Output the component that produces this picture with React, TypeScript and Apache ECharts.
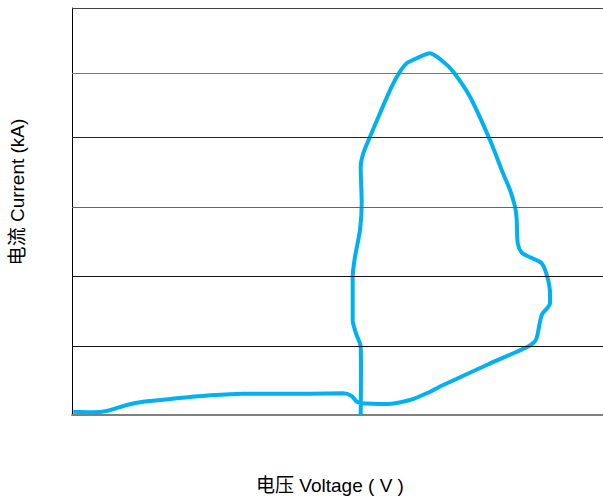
import React, { useEffect, useRef } from "react";
import * as echarts from "echarts";

// Voltage (arbitrary 0..100 scale across the plot) and current (kA)
const voltage: number[] = [
  0.24, 3.95, 6.53, 10.3, 13.37, 19.72, 25.99, 32.2, 38.55, 44.82, 51.04, 52.67, 53.62, 54.56,
  59.26, 63.65, 66.8, 69.92, 78.1, 85.63, 86.82, 87.51, 88.46, 90.02, 90.02, 89.51, 88.46,
  86.25, 84.69, 83.94, 83.75, 83.43, 82.49, 80.92, 78.72, 74.95, 71.81, 69.92, 67.42, 64.92,
  63.03, 61.77, 60.21, 58.0, 56.12, 54.86, 54.37, 54.43, 54.56, 54.24, 53.3, 52.86, 52.86,
  53.48, 54.37, 54.43, 54.37,
];
const current: number[] = [
  0.049, 0.04, 0.059, 0.147, 0.196, 0.246, 0.29, 0.314, 0.314, 0.314, 0.32, 0.28, 0.196, 0.172,
  0.162, 0.221, 0.32, 0.442, 0.737, 0.998, 1.057, 1.135, 1.474, 1.647, 1.794, 2.039, 2.236,
  2.325, 2.393, 2.531, 2.875, 3.071, 3.317, 3.612, 4.054, 4.692, 5.061, 5.208, 5.332, 5.259,
  5.185, 5.061, 4.84, 4.448, 4.103, 3.858, 3.66, 3.464, 3.121, 2.727, 2.334, 2.039, 1.4,
  1.204, 1.007, 0.663, 0,
];
const gridLevels: number[] = [1.007, 2.049, 3.071, 4.088, 5.037, 6];
const gridColors: string[] = ["#111", "#111", "#666", "#222", "#777", "#444"];

const xName = "电压 Voltage ( V )";
const yName = "电流 Current (kA)";

export default function App() {
  const ref = useRef<HTMLDivElement>(null);
  useEffect(() => {
    if (!ref.current) return;
    const chart = echarts.init(ref.current, null, { renderer: "svg" });
    const font = '"Liberation Sans", Arial, "Noto Sans CJK SC", sans-serif';
    chart.setOption({
      animation: false,
      backgroundColor: "#ffffff",
      grid: { left: 72, right: 0, top: 8, bottom: 82 },
      xAxis: {
        type: "value",
        min: 0,
        max: 100,
        splitLine: { show: false },
        axisTick: { show: false },
        axisLabel: { show: false },
        axisLine: { show: true, lineStyle: { color: "#808080", width: 2 } },
      },
      yAxis: {
        type: "value",
        min: 0,
        max: 6,
        splitLine: { show: false },
        axisTick: { show: false },
        axisLabel: { show: false },
        axisLine: { show: true, lineStyle: { color: "#000000", width: 1 } },
      },
      graphic: [
        {
          type: "text",
          x: 330,
          y: 485,
          style: {
            text: xName,
            font: `19px ${font}`,
            fill: "#000000",
            align: "center",
            verticalAlign: "middle",
          },
        },
        {
          type: "text",
          x: 17,
          y: 192,
          rotation: Math.PI / 2,
          style: {
            text: yName,
            font: `19px ${font}`,
            fill: "#000000",
            align: "center",
            verticalAlign: "middle",
          },
        },
      ],
      series: [
        {
          type: "line",
          data: [],
          z: 1,
          silent: true,
          markLine: {
            silent: true,
            symbol: ["none", "none"],
            label: { show: false },
            data: gridLevels.map((v, i) => ({
              yAxis: v,
              lineStyle: { color: gridColors[i], width: 1, type: "solid" },
            })),
          },
        },
        {
          type: "line",
          z: 3,
          data: voltage.map((v, i) => [v, current[i]]),
          showSymbol: false,
          smooth: 0.25,
          lineStyle: { color: "#00B0F0", width: 4 },
          itemStyle: { color: "#00B0F0" },
        },
      ],
    });
    return () => chart.dispose();
  }, []);
  return <div ref={ref} style={{ width: 603, height: 497, position: "absolute", left: 0, top: 0 }} />;
}
